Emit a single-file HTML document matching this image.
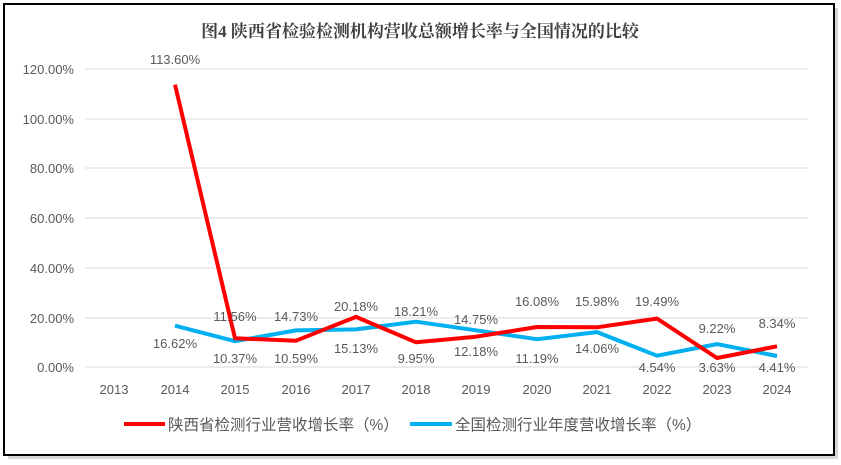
<!DOCTYPE html>
<html><head><meta charset="utf-8"><style>
body{margin:0;background:#fff;width:841px;height:465px;overflow:hidden}
svg{display:block}
text{font-family:"Liberation Sans","Noto Sans CJK SC",sans-serif;fill:#595959;font-size:13px}
</style></head><body>
<svg width="841" height="465" viewBox="0 0 841 465">
<rect x="8" y="8" width="830" height="451" fill="#bbb" opacity="0.6"/>
<rect x="4" y="4" width="830" height="451" fill="#fff" stroke="#000" stroke-width="2"/>
<text x="420" y="37" text-anchor="middle" style="font-family:'Liberation Serif','Noto Serif CJK SC',serif;font-weight:bold;font-size:17px;fill:#404040">图4  陕西省检验检测机构营收总额增长率与全国情况的比较</text>
<g stroke="#d9d9d9" stroke-width="1">
<line x1="85" x2="808" y1="69" y2="69"/><line x1="85" x2="808" y1="119" y2="119"/>
<line x1="85" x2="808" y1="168" y2="168"/><line x1="85" x2="808" y1="218" y2="218"/>
<line x1="85" x2="808" y1="268" y2="268"/><line x1="85" x2="808" y1="318" y2="318"/>
<line x1="85" x2="808" y1="367" y2="367"/>
</g>
<g text-anchor="end">
<text x="74" y="74">120.00%</text><text x="74" y="124">100.00%</text>
<text x="74" y="173">80.00%</text><text x="74" y="223">60.00%</text>
<text x="74" y="273">40.00%</text><text x="74" y="323">20.00%</text>
<text x="74" y="372">0.00%</text>
</g>
<g text-anchor="middle">
<text x="114" y="394">2013</text><text x="175" y="394">2014</text><text x="235" y="394">2015</text>
<text x="296" y="394">2016</text><text x="356" y="394">2017</text><text x="416" y="394">2018</text>
<text x="476" y="394">2019</text><text x="537" y="394">2020</text><text x="597" y="394">2021</text>
<text x="657" y="394">2022</text><text x="717" y="394">2023</text><text x="777" y="394">2024</text>
</g>
<polyline fill="none" stroke="#00b0f0" stroke-width="4" stroke-linejoin="round" points="175,325.7 235,341.2 296,330.4 356,329.4 416,321.7 476,330.3 537,339.2 597,332.1 657,355.7 717,344.1 777,356"/>
<polyline fill="none" stroke="#ff0000" stroke-width="4" stroke-linejoin="round" points="175,84.7 235,338.3 296,340.7 356,316.9 416,342.3 476,336.7 537,327 597,327.3 657,318.6 717,358 777,346.3"/>
<g text-anchor="middle">
<text x="175" y="64">113.60%</text>
<text x="175" y="348">16.62%</text>
<text x="235" y="321">11.56%</text><text x="235" y="363">10.37%</text>
<text x="296" y="321">14.73%</text><text x="296" y="363">10.59%</text>
<text x="356" y="311">20.18%</text><text x="356" y="353">15.13%</text>
<text x="416" y="316">18.21%</text><text x="416" y="363">9.95%</text>
<text x="476" y="324">14.75%</text><text x="476" y="356">12.18%</text>
<text x="537" y="306">16.08%</text><text x="537" y="363">11.19%</text>
<text x="597" y="306">15.98%</text><text x="597" y="353">14.06%</text>
<text x="657" y="306">19.49%</text><text x="657" y="372">4.54%</text>
<text x="717" y="333">9.22%</text><text x="717" y="372">3.63%</text>
<text x="777" y="328">8.34%</text><text x="777" y="372">4.41%</text>
</g>
<line x1="124" x2="165" y1="424" y2="424" stroke="#ff0000" stroke-width="4"/>
<text x="168" y="430" style="font-size:15.5px">陕西省检测行业营收增长率（%）</text>
<line x1="410" x2="452" y1="424" y2="424" stroke="#00b0f0" stroke-width="4"/>
<text x="455" y="430" style="font-size:15.5px">全国检测行业年度营收增长率（%）</text>
</svg>
</body></html>
